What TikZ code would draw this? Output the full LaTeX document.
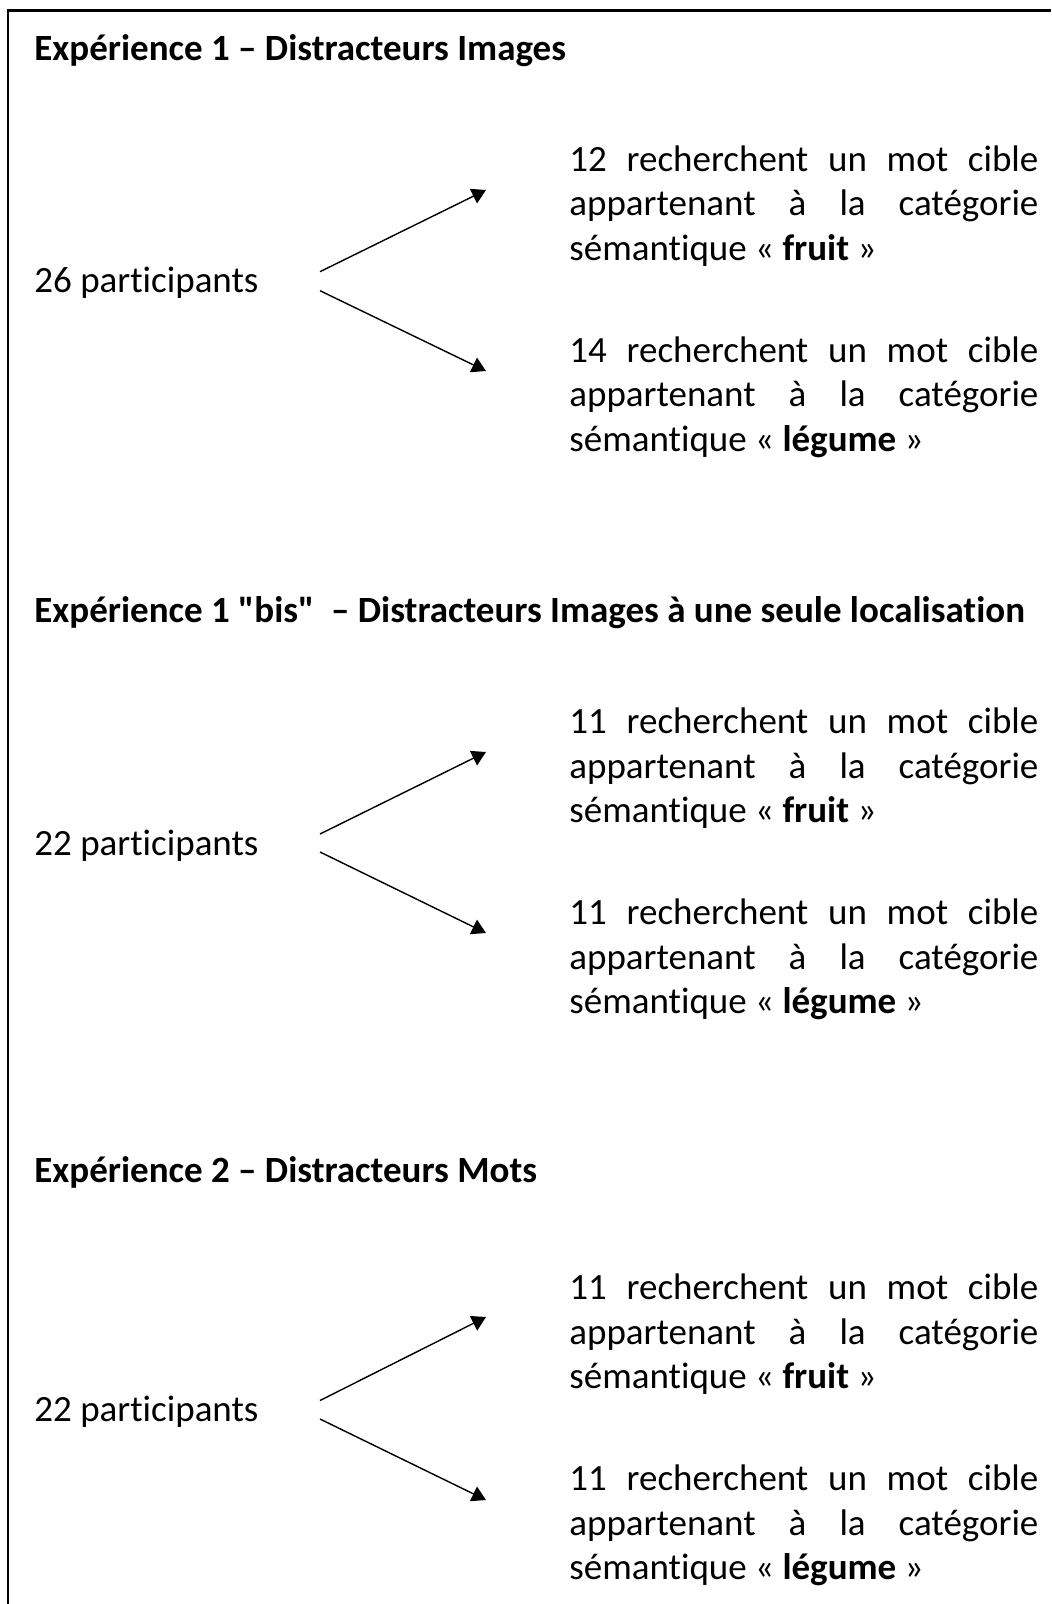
\documentclass[tikz,border=0pt]{standalone}
\usepackage{fontspec}
\setmainfont{Carlito}[Ligatures={TeX,NoCommon}]
\newfontfamily\quotefont{Carlito}[Ligatures=NoCommon]
\usetikzlibrary{arrows.meta}
\newcommand{\bodysize}{\fontsize{18.5}{22}\selectfont}
\newcommand{\jline}[1]{\makebox[234.5pt][s]{#1}}
\tikzstyle{arrow} = [line width=0.7pt,-{Triangle[length=7pt,width=8pt]}]
\tikzstyle{title} = [anchor=base west,inner sep=0pt,font=\bodysize\bfseries]
\tikzstyle{txt} = [anchor=base west,inner sep=0pt,font=\bodysize]
\begin{document}
\begin{tikzpicture}[x=0.5pt,y=-0.5pt]
    \useasboundingbox (0,0) rectangle (1051,1604);
    \draw[line width=1.2pt] (1051,10.5) -- (8,10.5) -- (8,1604);
    % Experience 1
    \node[title] (t_1) at (34,61) {Expérience 1 – Distracteurs Images};
    \node[txt] (p_1) at (34,293) {26 participants};
    \node[txt] (f_1a) at (569,171.5) {\jline{12 recherchent un mot cible}};
    \node[txt] (f_1b) at (569,216) {\jline{appartenant à la catégorie}};
    \node[txt] (f_1c) at (569,260.5) {sémantique «~\textbf{fruit}~»};
    \node[txt] (l_1a) at (569,362.5) {\jline{14 recherchent un mot cible}};
    \node[txt] (l_1b) at (569,407) {\jline{appartenant à la catégorie}};
    \node[txt] (l_1c) at (569,451.5) {sémantique «~\textbf{légume}~»};
    \coordinate (s_1u) at (320,271.7);
    \coordinate (e_1u) at (486,190);
    \coordinate (s_1d) at (320,290.7);
    \coordinate (e_1d) at (486,371);
    \draw[arrow] (s_1u) -- (e_1u);
    \draw[arrow] (s_1d) -- (e_1d);
    % Experience 1 bis
    \node[title] (t_2) at (34,622.5) {Expérience 1 {\quotefont "bis"}\ \ – Distracteurs Images à une seule localisation};
    \node[txt] (p_2) at (34,855.5) {22 participants};
    \node[txt] (f_2a) at (569,733.5) {\jline{11 recherchent un mot cible}};
    \node[txt] (f_2b) at (569,778) {\jline{appartenant à la catégorie}};
    \node[txt] (f_2c) at (569,822.5) {sémantique «~\textbf{fruit}~»};
    \node[txt] (l_2a) at (569,924.5) {\jline{11 recherchent un mot cible}};
    \node[txt] (l_2b) at (569,969) {\jline{appartenant à la catégorie}};
    \node[txt] (l_2c) at (569,1013.5) {sémantique «~\textbf{légume}~»};
    \coordinate (s_2u) at (320,834);
    \coordinate (e_2u) at (486,752);
    \coordinate (s_2d) at (320,852);
    \coordinate (e_2d) at (486,933);
    \draw[arrow] (s_2u) -- (e_2u);
    \draw[arrow] (s_2d) -- (e_2d);
    % Experience 2
    \node[title] (t_3) at (34,1182.5) {Expérience 2 – Distracteurs Mots};
    \node[txt] (p_3) at (34,1421.5) {22 participants};
    \node[txt] (f_3a) at (569,1299.5) {\jline{11 recherchent un mot cible}};
    \node[txt] (f_3b) at (569,1344) {\jline{appartenant à la catégorie}};
    \node[txt] (f_3c) at (569,1388.5) {sémantique «~\textbf{fruit}~»};
    \node[txt] (l_3a) at (569,1490.5) {\jline{11 recherchent un mot cible}};
    \node[txt] (l_3b) at (569,1535) {\jline{appartenant à la catégorie}};
    \node[txt] (l_3c) at (569,1579.5) {sémantique «~\textbf{légume}~»};
    \coordinate (s_3u) at (320,1400.5);
    \coordinate (e_3u) at (486,1317);
    \coordinate (s_3d) at (320,1419);
    \coordinate (e_3d) at (486,1500);
    \draw[arrow] (s_3u) -- (e_3u);
    \draw[arrow] (s_3d) -- (e_3d);
\end{tikzpicture}
\end{document}
